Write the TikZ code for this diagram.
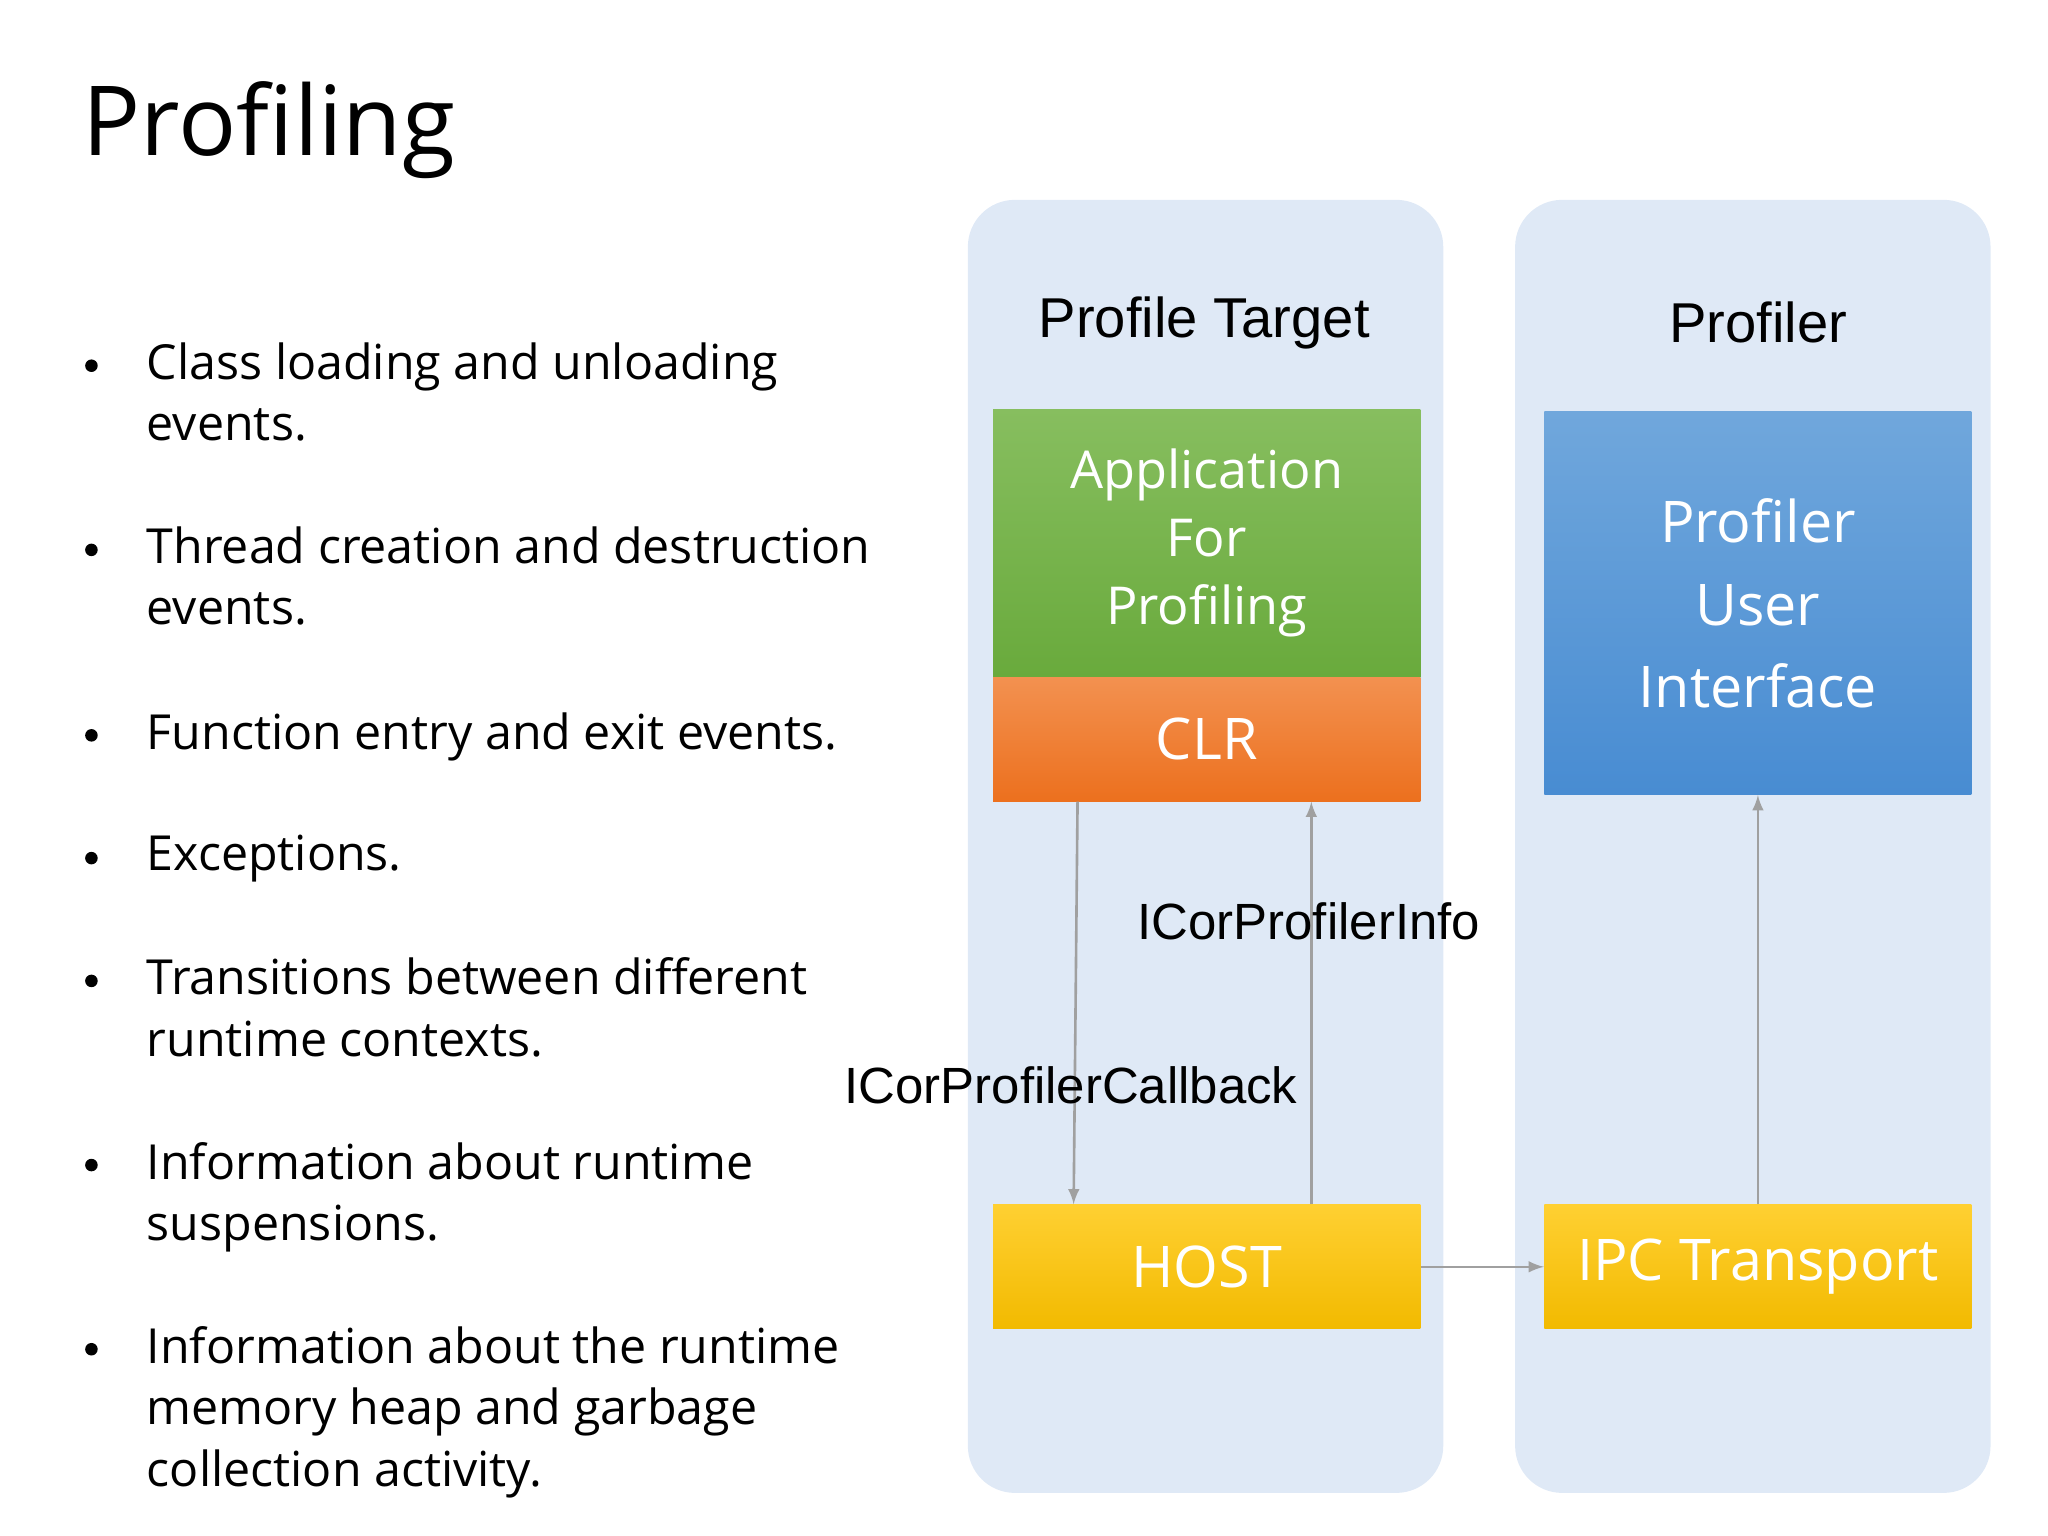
\documentclass[tikz,border=0pt]{standalone}
\usepackage{fontspec}
\setmainfont{Open Sans}
\newfontfamily\arialfont{Liberation Sans}
\usetikzlibrary{positioning}
\definecolor{panelblue}{RGB}{223,233,246}
\definecolor{arrowgray}{RGB}{160,160,160}
\tikzset{
  panel/.style={draw=none,fill=panelblue,rounded corners=18pt},
  block/.style={anchor=north west,minimum width=163.5pt,inner sep=0pt,text=white,align=center,font=\fontsize{20}{26}\selectfont},
  link/.style={draw=arrowgray,line width=1pt,-latex},
  iface/.style={font=\arialfont\fontsize{19.5}{22}\selectfont,inner sep=0pt},
  heading/.style={font=\arialfont\fontsize{21.5}{24}\selectfont},
  bullet/.style={anchor=north west,inner sep=0pt,align=left,font=\fontsize{18.5}{23.5}\selectfont}
}
\begin{document}
\begin{tikzpicture}[x=0.5pt,y=-0.5pt]
\useasboundingbox (0,0) rectangle (1568,1176);

% Title
\node[anchor=west,inner sep=0pt,font=\fontsize{37}{44}\selectfont] (title) at (63,100) {Profiling};

% Bullets
\foreach \y/\txt in {262/{Class loading and unloading\\events.},
                     403/{Thread creation and destruction\\events.},
                     545/{Function entry and exit events.},
                     639/{Exceptions.},
                     733/{Transitions between different\\runtime contexts.},
                     874/{Information about runtime\\suspensions.},
                     1015/{Information about the runtime\\memory heap and garbage\\collection activity.}}{
  \node[bullet] at (112,\y) {\txt};
  \fill (70,\y+18) circle (2.4pt);
}

% Panels
\path[panel] (741,153) rectangle (1105,1143);
\path[panel] (1160,153) rectangle (1524,1143);
\node[heading] (target) at (922,247) {Profile Target};
\node[heading] (profiler) at (1346,247) {Profiler};

% Blocks
\node[block,minimum height=102.5pt,top color={rgb,255:red,135;green,190;blue,95},bottom color={rgb,255:red,105;green,170;blue,60}] (app) at (760,313) {Application\\For\\Profiling};
\node[block,minimum height=47.5pt,top color={rgb,255:red,243;green,145;blue,80},bottom color={rgb,255:red,236;green,112;blue,30},font=\fontsize{22}{26}\selectfont] (clr) at (760,518) {CLR};
\node[block,minimum height=146.5pt,top color={rgb,255:red,112;green,167;blue,220},bottom color={rgb,255:red,72;green,140;blue,210},font=\fontsize{22}{31.5}\selectfont] (ui) at (1182,315) {Profiler\\User\\Interface};
\node[block,minimum height=47.5pt,top color={rgb,255:red,255;green,208;blue,50},bottom color={rgb,255:red,242;green,186;blue,0},font=\fontsize{22}{26}\selectfont] (host) at (760,922) {HOST};
\node[block,minimum height=47.5pt,top color={rgb,255:red,255;green,208;blue,50},bottom color={rgb,255:red,242;green,186;blue,0},font=\fontsize{22}{26}\selectfont] (ipc) at (1182,922) {IPC Transport\vphantom{H}};

% Connectors
\coordinate (cbtop) at ([xshift=32.5pt]clr.south west);
\coordinate (cbbot) at ([xshift=31pt]host.north west);
\coordinate (infobot) at ([xshift=122pt]host.north west);
\coordinate (infotop) at ([xshift=122pt]clr.south west);
\draw[link] (cbtop) -- (cbbot);
\draw[link] (infobot) -- (infotop);
\draw[link] (host) -- (ipc);
\draw[link] (ipc) -- (ui);

% Labels
\node[iface] (info) at (1002,705) {ICorProfilerInfo};
\node[iface] (callback) at (820,831) {ICorProfilerCallback};
\end{tikzpicture}
\end{document}
